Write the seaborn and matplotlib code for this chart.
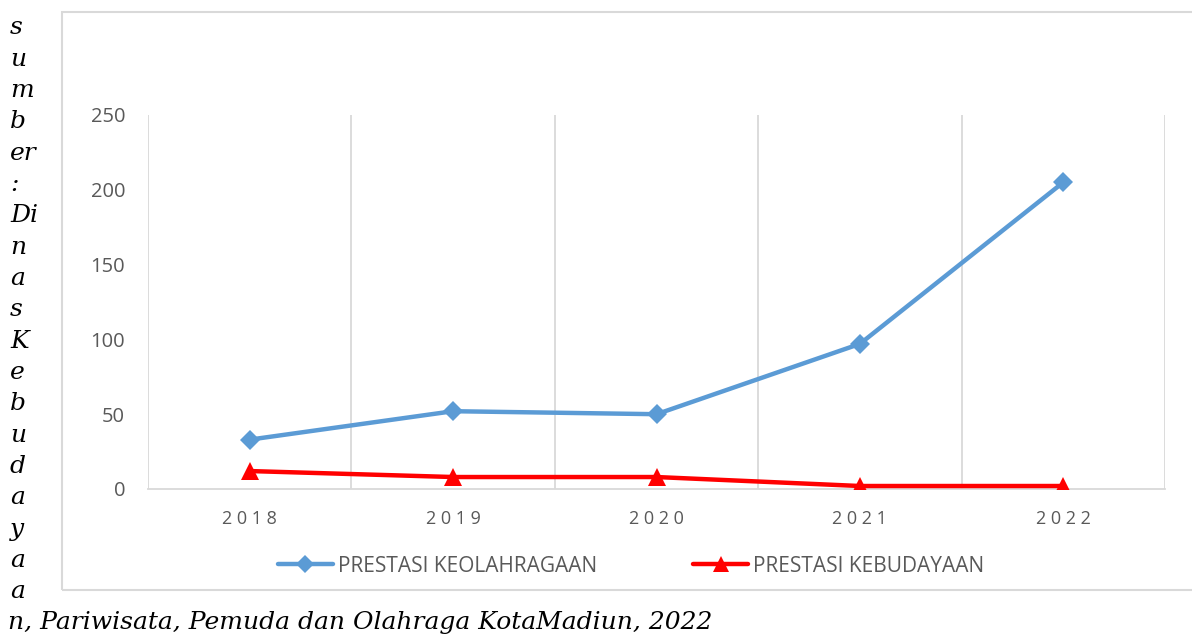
import matplotlib
matplotlib.use("Agg")
import matplotlib.pyplot as plt
import seaborn as sns
import pandas as pd
from matplotlib.patches import Rectangle
from matplotlib.lines import Line2D

years = ["2018", "2019", "2020", "2021", "2022"]
olahraga = [33, 52, 50, 97, 205]
budaya = [12, 8, 8, 2, 2]
series_names = ["PRESTASI KEOLAHRAGAAN", "PRESTASI KEBUDAYAAN"]
y_ticks = [0, 50, 100, 150, 200, 250]
side_lines = ["s", "u", "m", "b", "er", ":", "Di", "n", "a", "s", "K", "e",
              "b", "u", "d", "a", "y", "a", "a"]
bottom_line = "n, Pariwisata, Pemuda dan Olahraga KotaMadiun, 2022"

sns.set_theme(style="white")
plt.rcParams['font.family'] = ['Open Sans', 'DejaVu Sans']

W, H = 1192, 635
fig = plt.figure(figsize=(W / 100, H / 100), dpi=100)
ax = fig.add_axes([148 / W, 1 - 489 / H, (1165 - 148) / W, (489 - 115) / H])

# outer chart border
fig.patches.append(Rectangle((62 / W, 1 - 590 / H), (W + 5 - 62) / W, (590 - 12) / H,
                             transform=fig.transFigure, fill=False,
                             edgecolor="#d9d9d9", linewidth=1.5, zorder=0))

df = pd.DataFrame({
    "x": list(range(len(years))) * 2,
    "value": olahraga + budaya,
    "series": [series_names[0]] * len(years) + [series_names[1]] * len(years),
})
colors = {series_names[0]: "#5b9bd5", series_names[1]: "#ff0000"}
markers = {series_names[0]: "D", series_names[1]: "^"}
sizes = {series_names[0]: 10, series_names[1]: 13}

for name in series_names:
    sub = df[df["series"] == name]
    sns.lineplot(data=sub, x="x", y="value", ax=ax, color=colors[name],
                 marker=markers[name], markersize=sizes[name],
                 markeredgewidth=0, linewidth=3.2, legend=False, zorder=3)

ax.set_xlim(-0.5, len(years) - 0.5)
ax.set_ylim(0, 250)
ax.set_yticks(y_ticks)
ax.set_yticklabels([str(t) for t in y_ticks], color="#595959", fontsize=14.5)
ax.set_xticks(range(len(years)))
ax.set_xticklabels([" ".join(y) for y in years], color="#595959", fontsize=13)
ax.tick_params(axis="both", length=0)
ax.tick_params(axis="x", pad=15)
ax.tick_params(axis="y", pad=16.5)
ax.set_xlabel("")
ax.set_ylabel("")

for b in [i - 0.5 for i in range(len(years) + 1)]:
    ax.axvline(b, color="#d9d9d9", linewidth=1.3, zorder=1)
for s in ["top", "right", "left"]:
    ax.spines[s].set_visible(False)
ax.spines["bottom"].set_color("#d9d9d9")
ax.spines["bottom"].set_linewidth(1.3)

handles = [Line2D([], [], color=colors[n], marker=markers[n], markersize=sizes[n] - 1,
                  markeredgewidth=0, linewidth=3.2) for n in series_names]
fig.legend(handles, series_names, loc="center", bbox_to_anchor=(631 / W, 1 - 566 / H),
           ncol=2, frameon=False, fontsize=15, handlelength=2.65, handletextpad=0.25,
           columnspacing=4.6, labelcolor="#595959")

# source text (italic serif) on the left and bottom
y0 = 28
step = (623 - 28) / len(side_lines)
for i, t in enumerate(side_lines):
    fig.text(10 / W, 1 - (y0 + i * step) / H, t, ha="left", va="center",
             family="DejaVu Serif", style="italic", fontsize=18, color="black")
fig.text(8 / W, 1 - 623 / H, bottom_line, ha="left", va="center",
         family="DejaVu Serif", style="italic", fontsize=18, color="black")

fig.savefig("out.png", dpi=100)
